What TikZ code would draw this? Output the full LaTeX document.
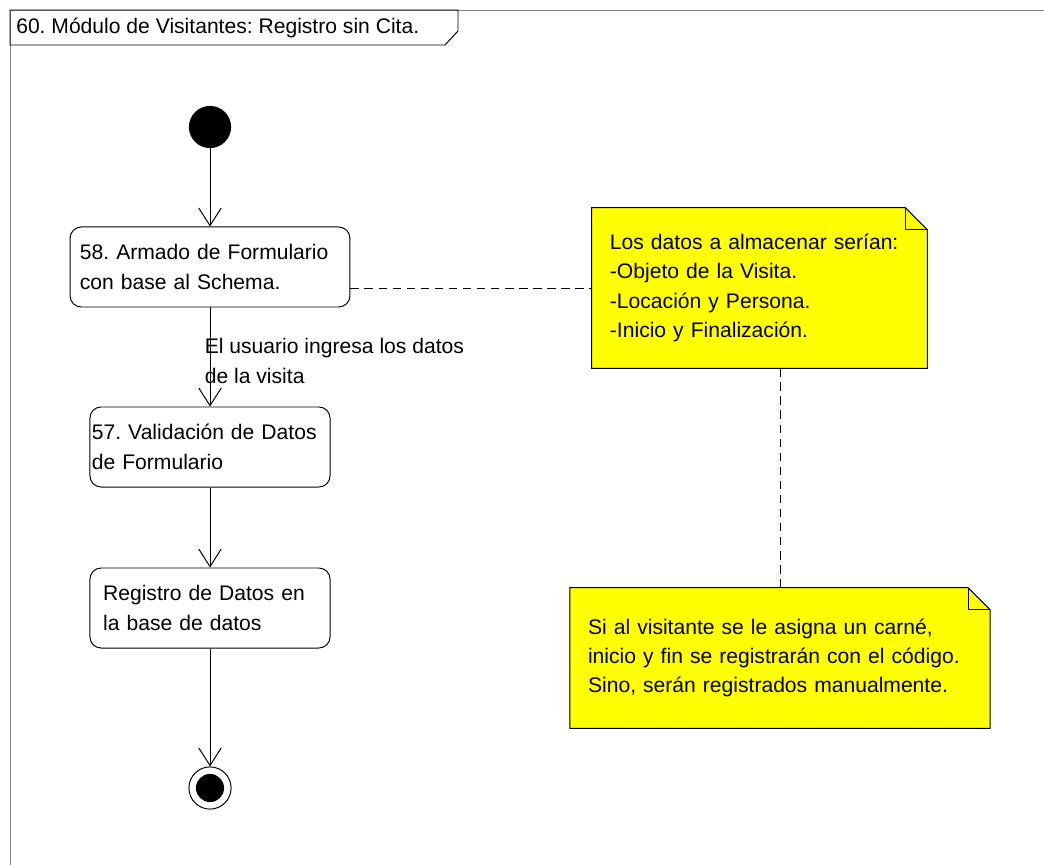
\documentclass[tikz,border=0pt]{standalone}
\usepackage{fontspec}
\setmainfont{Liberation Sans}
\usepackage{tikz}
\usetikzlibrary{arrows.meta, calc, backgrounds}
\definecolor{noteyellow}{RGB}{255,255,0}
\definecolor{framegray}{RGB}{130,130,130}

\begin{document}
\begin{tikzpicture}[
    x=0.025cm, y=-0.025cm,
    every node/.style={font=\fontsize{15}{21.5}\selectfont\frenchspacing},
    action/.style={draw, rectangle, rounded corners=8pt, line width=0.7pt,
                   minimum height=56.9pt, align=left},
    startdot/.style={circle, fill=black, minimum size=30pt, inner sep=0pt},
    enddot/.style={circle, draw, line width=0.7pt, minimum size=30pt, inner sep=0pt,
                   path picture={\fill (path picture bounding box.center) circle (10pt);}},
    notetext/.style={rectangle, align=left, font=\fontsize{15}{20.8}\selectfont\frenchspacing},
    noteshape/.style={draw, fill=noteyellow, line width=0.7pt},
    flow/.style={-{Straight Barb[length=12.5pt, width=16pt]}, line width=0.7pt},
    dashline/.style={line width=0.7pt, dash pattern=on 6pt off 4pt}
]
\useasboundingbox (0,0) rectangle (1044,865);
%% frame and title tab
\draw[framegray, line width=0.7pt] (10,865) -- (10,10) -- (1044,10);
\draw[line width=0.7pt] (10,10) -- (458,10) -- (458,31) -- (445,45) -- (10,45) -- cycle;
\node[anchor=west, inner sep=0pt] (title) at (16,28) {60. Módulo de Visitantes: Registro sin Cita.};
%% initial state and actions
\node[startdot] (start) at (210,127) {};
\node[action, text width=185pt, inner xsep=7pt] (a58) at (210,267) {
    58. Armado de Formulario\\con base al Schema.};
\node[action, text width=168pt, inner xsep=1.4pt] (a57) at (210,447) {
    57. Validación de Datos\\de Formulario};
\node[action, text width=152pt, inner xsep=9.4pt] (reg) at (210,608) {
    Registro de Datos en\\la base de datos};
\node[enddot] (end) at (210,788) {};
\draw[flow] (start) -- (a58);
\draw[flow] (a58) -- node[anchor=west, inner sep=0pt, xshift=-4pt, yshift=-3pt, align=left] (lbl)
    {El usuario ingresa los datos\\de la visita} (a57);
\draw[flow] (a57) -- (reg);
\draw[flow] (reg) -- (end);
%% notes
\node[notetext, text width=212.7pt, inner xsep=12.8pt, minimum height=113.8pt] (n1) at (759.5,288) {
    Los datos a almacenar serían:\\-Objeto de la Visita.\\-Locación y Persona.\\-Inicio y Finalización.};
\node[notetext, text width=273pt, inner xsep=12.7pt, minimum height=99.6pt] (n2) at (780,658) {
    Si al visitante se le asigna un carné,\\inicio y fin se registrarán con el código.\\Sino, serán registrados manualmente.};
\begin{scope}[on background layer]
\draw[noteshape] (n1.north west) -- ($(n1.north east)+(-22,0)$) -- ($(n1.north east)+(0,22)$)
    -- (n1.south east) -- (n1.south west) -- cycle;
\draw[line width=0.7pt] ($(n1.north east)+(-22,0)$) |- ($(n1.north east)+(0,22)$);
\draw[noteshape] (n2.north west) -- ($(n2.north east)+(-22,0)$) -- ($(n2.north east)+(0,22)$)
    -- (n2.south east) -- (n2.south west) -- cycle;
\draw[line width=0.7pt] ($(n2.north east)+(-22,0)$) |- ($(n2.north east)+(0,22)$);
\end{scope}
\draw[dashline] (a58.east |- n1.west) -- (n1.west);
\draw[dashline] (n1.south -| n2.north) -- (n2.north);
\end{tikzpicture}
\end{document}
